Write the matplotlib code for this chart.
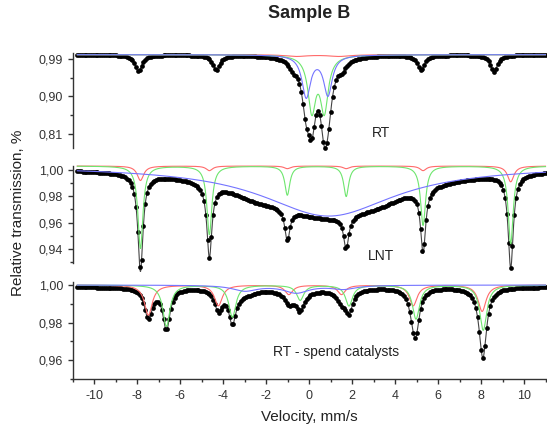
import numpy as np
import matplotlib
matplotlib.use("Agg")
import matplotlib.pyplot as plt
from matplotlib.ticker import FixedLocator, FuncFormatter

plt.rcParams['font.family'] = ['Liberation Sans', 'DejaVu Sans']
plt.rcParams['axes.unicode_minus'] = False

# channel velocities [mm/s]
v_start, v_stop, n_chan = -10.8, 11.0, 256

# --- RT (top) : two doublets, weak broad red, weak sextet (in total only)
rt_base = 1.0
rt_green_pos = [0.12, 0.70]
rt_green_depth = [0.13, 0.13]
rt_green_hw = [0.22, 0.22]
rt_blue_pos = [-0.14, 0.87]
rt_blue_depth = [0.100, 0.095]
rt_blue_hw = [0.24, 0.24]
rt_red_pos = [-0.6, 1.4]
rt_red_depth = [0.004, 0.004]
rt_red_hw = [0.6, 0.6]
rt_sext_pos = [-7.95, -4.33, -0.75, 1.55, 5.21, 8.6]
rt_sext_depth = [0.040, 0.035, 0.015, 0.016, 0.035, 0.040]
rt_sext_hw = [0.2, 0.2, 0.2, 0.2, 0.2, 0.2]

# --- LNT (middle) : green + red sextets, broad blue
lnt_base = 1.003
lnt_green_pos = [-7.86, -4.65, -1.02, 1.72, 5.30, 9.38]
lnt_green_depth = [0.0625, 0.052, 0.022, 0.023, 0.045, 0.059]
lnt_green_hw = [0.14, 0.14, 0.14, 0.14, 0.14, 0.14]
lnt_red_pos = [-7.86, -4.65, -1.02, 1.72, 5.30, 9.38]
lnt_red_depth = [0.011, 0.0035, 0.002, 0.002, 0.0035, 0.012]
lnt_red_hw = [0.18, 0.18, 0.18, 0.18, 0.18, 0.18]
lnt_blue_pos = [0.9]
lnt_blue_depth = [0.038]
lnt_blue_hw = [3.8]
lnt_rest_pos = [-2.6, 3.4]          # residual broad absorption (total fit only)
lnt_rest_depth = [0.006, 0.004]
lnt_rest_hw = [1.3, 1.3]

# --- RT spent catalysts (bottom)
sc_base = 1.0
sc_data_base = 0.999
sc_red_pos = [-7.49, -4.23, -0.95, 1.50, 4.84, 8.05]
sc_red_depth = [0.016, 0.011, 0.005, 0.005, 0.011, 0.014]
sc_red_hw = [0.22, 0.22, 0.22, 0.22, 0.22, 0.22]
sc_green_pos = [-6.65, -3.58, -0.42, 1.85, 4.97, 8.10]
sc_green_depth = [0.022, 0.017, 0.008, 0.011, 0.018, 0.024]
sc_green_hw = [0.2, 0.2, 0.2, 0.2, 0.2, 0.2]
sc_blue_pos = [-3.0, -0.6, 1.6]
sc_blue_depth = [0.003, 0.004, 0.002]
sc_blue_hw = [0.7, 0.7, 0.7]

labels = ['RT', 'LNT', 'RT - spend catalysts']
label_xy = [(3.35, 0.812), (3.35, 0.9347), (1.27, 0.9643)]
ylims = [(0.776, 1.004), (0.9294, 1.003), (0.95, 1.0016)]
yticks_major = [[0.81, 0.90, 0.99], [0.94, 0.96, 0.98, 1.00], [0.96, 0.98, 1.00]]
yticks_minor = [[0.855, 0.945], [0.93, 0.95, 0.97, 0.99], [0.95, 0.97, 0.99]]


def lines(v, pos, depth, hw):
    out = np.zeros_like(v)
    for c, d, w in zip(pos, depth, hw):
        out += d * w**2 / ((v - c)**2 + w**2)
    return out


v = np.linspace(v_start, v_stop, n_chan)
vf = np.linspace(v_start, v_stop, 2000)

panels = [
    dict(base=rt_base, data_base=rt_base,
         red=(rt_red_pos, rt_red_depth, rt_red_hw),
         green=(rt_green_pos, rt_green_depth, rt_green_hw),
         blue=(rt_blue_pos, rt_blue_depth, rt_blue_hw),
         extra=(rt_sext_pos, rt_sext_depth, rt_sext_hw)),
    dict(base=lnt_base, data_base=lnt_base,
         red=(lnt_red_pos, lnt_red_depth, lnt_red_hw),
         green=(lnt_green_pos, lnt_green_depth, lnt_green_hw),
         blue=(lnt_blue_pos, lnt_blue_depth, lnt_blue_hw),
         extra=(lnt_rest_pos, lnt_rest_depth, lnt_rest_hw)),
    dict(base=sc_base, data_base=sc_data_base,
         red=(sc_red_pos, sc_red_depth, sc_red_hw),
         green=(sc_green_pos, sc_green_depth, sc_green_hw),
         blue=(sc_blue_pos, sc_blue_depth, sc_blue_hw),
         extra=([], [], [])),
]

colors = {'red': '#ff6a6a', 'green': '#6ee66e', 'blue': '#7474ff'}

fig = plt.figure(figsize=(5.47, 4.25), dpi=100)
left, right = 73 / 547, 545.5 / 547
boxes = [(53, 148), (166, 263), (282, 379)]   # pixel top/bottom of each panel

axes = []
for i, (p, (ytop, ybot)) in enumerate(zip(panels, boxes)):
    ax = fig.add_axes([left, 1 - ybot / 425, right - left, (ybot - ytop) / 425])
    axes.append(ax)

    def total(x):
        s = p['data_base'] - sum(lines(x, *p[k]) for k in ('red', 'green', 'blue', 'extra'))
        return s

    ax.plot(vf, total(vf), color='#444444', lw=0.8, zorder=2, clip_on=False)
    ax.plot(v, total(v), 'o', color='black', ms=3.4, mec='none', zorder=2, clip_on=False)
    for k in ('red', 'green', 'blue'):
        ax.plot(vf, p['base'] - lines(vf, *p[k]), color=colors[k], lw=0.8, zorder=3, clip_on=False)

    ax.set_xlim(-11, 11)
    ax.set_ylim(*ylims[i])
    ax.yaxis.set_major_locator(FixedLocator(yticks_major[i]))
    ax.yaxis.set_minor_locator(FixedLocator(yticks_minor[i]))
    ax.yaxis.set_major_formatter(FuncFormatter(lambda y, _: f"{y:.2f}".replace('.', ',')))
    ax.tick_params(axis='y', which='major', length=3.6, width=1.0, pad=3.5, labelsize=9, colors='#333333')
    ax.tick_params(axis='y', which='minor', length=2.2, width=1.0, colors='#333333')
    for s in ('top', 'right'):
        ax.spines[s].set_visible(False)
    ax.spines['left'].set_color('#333333')
    ax.spines['left'].set_linewidth(1.0)
    ax.text(*label_xy[i], labels[i], ha='center', va='center', fontsize=10, color='#222222')
    ax.patch.set_alpha(0)

    if i < 2:
        ax.spines['bottom'].set_visible(False)
        ax.tick_params(axis='x', which='both', bottom=False, labelbottom=False)
    else:
        ax.spines['bottom'].set_color('#333333')
        ax.spines['bottom'].set_linewidth(1.0)
        ax.xaxis.set_major_locator(FixedLocator(np.arange(-10, 11, 2)))
        ax.xaxis.set_minor_locator(FixedLocator(np.arange(-11, 12, 1)))
        ax.xaxis.set_major_formatter(FuncFormatter(lambda x, _: f"{x:.0f}"))
        ax.tick_params(axis='x', which='major', length=3.6, width=1.0, pad=4.3, labelsize=9, colors='#333333')
        ax.tick_params(axis='x', which='minor', length=2.2, width=1.0, colors='#333333')

xc = (left + right) / 2
fig.text(xc, 1 - 13 / 425, 'Sample B', ha='center', va='center', fontsize=13, fontweight='bold', color='#222222')
fig.text(xc, 1.5 / 425, 'Velocity, mm/s', ha='center', va='bottom', fontsize=11, color='#222222')
fig.text(18 / 547, 0.5, 'Relative transmission, %', ha='center', va='center', rotation=90, fontsize=11, color='#222222')

fig.savefig('out.png', dpi=100)
